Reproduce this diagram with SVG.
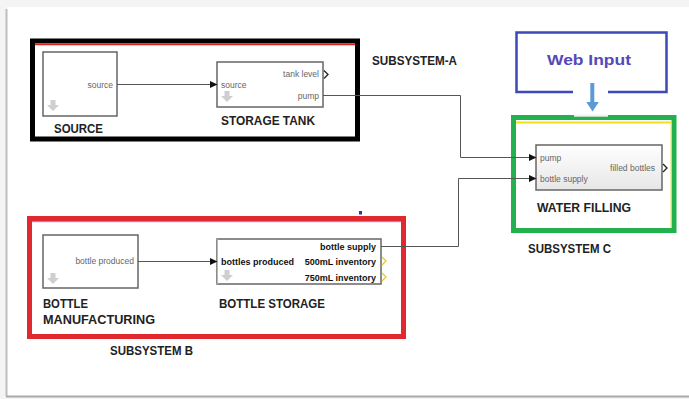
<svg xmlns="http://www.w3.org/2000/svg" width="689" height="399" viewBox="0 0 689 399">
<defs>
<marker id="ah" markerWidth="8" markerHeight="8" refX="7" refY="4" orient="auto" markerUnits="userSpaceOnUse">
<path d="M0,0.5 L7.5,4 L0,7.5 Z" fill="#111"/>
</marker>
<linearGradient id="wf" x1="0" y1="0" x2="0" y2="1">
<stop offset="0" stop-color="#ffffff"/>
<stop offset="1" stop-color="#e6e6e6"/>
</linearGradient>
<g id="dn">
<path d="M-2.5,-6 h5 v5 h3.5 l-6,6 l-6,-6 h3.5 z" fill="#cfcfcf"/>
</g>
</defs>
<style>
.lbl{font-family:"Liberation Sans",Arial,sans-serif;font-weight:bold;font-size:12px;fill:#222}
.port{font-family:"Liberation Sans",Arial,sans-serif;font-size:8.5px;fill:#666}
.bport{font-family:"Liberation Sans",Arial,sans-serif;font-weight:bold;font-size:9px;fill:#111}
.blk{fill:#fff;stroke:#666;stroke-width:1.5}
.wire{fill:none;stroke:#555;stroke-width:1}
.out{fill:none;stroke:#222;stroke-width:1.3}
.yout{fill:none;stroke:#e8c832;stroke-width:1.3}
</style>
<rect x="0" y="0" width="689" height="399" fill="#f4f4f4"/>
<rect x="7" y="7" width="682" height="389" fill="#fff"/>
<line x1="6.5" y1="9" x2="6.5" y2="396" stroke="#bdbdbd" stroke-width="2"/>
<line x1="6" y1="396.5" x2="689" y2="396.5" stroke="#a9a9a9" stroke-width="2"/>

<g id="subsystem-a">
<rect x="32.5" y="41" width="325" height="98" fill="none" stroke="#000" stroke-width="5"/>
<line x1="35" y1="44.5" x2="355" y2="44.5" stroke="#e02020" stroke-width="1.5"/>
<text class="lbl" x="372" y="65" textLength="85" lengthAdjust="spacingAndGlyphs">SUBSYSTEM-A</text>
</g>

<g id="source">
<rect class="blk" x="43" y="52" width="74" height="64"/>
<text class="port" x="113" y="87.5" text-anchor="end">source</text>
<use href="#dn" x="53" y="106"/>
<text class="lbl" x="54" y="133" textLength="49" lengthAdjust="spacingAndGlyphs">SOURCE</text>
</g>

<g id="storage-tank">
<rect class="blk" x="217" y="62" width="106" height="45"/>
<text class="port" x="221" y="88">source</text>
<text class="port" x="319" y="77" text-anchor="end">tank level</text>
<text class="port" x="319" y="98.5" text-anchor="end">pump</text>
<use href="#dn" x="227" y="97"/>
<path class="out" d="M324,70.5 L328,74.5 L324,78.5"/>
<text class="lbl" x="221" y="125" textLength="94" lengthAdjust="spacingAndGlyphs">STORAGE TANK</text>
</g>

<g id="web-input">
<path d="M573,92 H516.5 V32.5 H666.5 V92 H608" fill="none" stroke="#3b4ab8" stroke-width="2.5"/>
<text x="589" y="65" text-anchor="middle" font-family="'Liberation Sans',Arial,sans-serif" font-weight="bold" font-size="15.5" fill="#5548b8" textLength="84" lengthAdjust="spacingAndGlyphs">Web Input</text>
<path d="M590.3,83 h4 v19 h4.5 l-6.25,9.5 l-6.25,-9.5 h4 z" fill="#5b9bd5"/>
</g>

<g id="subsystem-c">
<rect x="513.5" y="117.5" width="160.5" height="113" fill="none" stroke="#22b14c" stroke-width="5"/>
<line x1="516" y1="122.5" x2="671" y2="122.5" stroke="#f0e020" stroke-width="2"/>
<line x1="671" y1="122" x2="671" y2="228" stroke="#e8e860" stroke-width="1"/>
<rect x="574" y="114.5" width="34" height="2.2" fill="#f2f2f2"/>
<text class="lbl" x="528" y="252.5" textLength="83" lengthAdjust="spacingAndGlyphs">SUBSYSTEM C</text>
</g>

<g id="water-filling">
<rect x="536" y="145" width="126" height="45" fill="url(#wf)" stroke="#666" stroke-width="1.5"/>
<text class="port" x="540" y="160.5">pump</text>
<text class="port" x="540" y="181.5">bottle supply</text>
<text class="port" x="655" y="171" text-anchor="end">filled bottles</text>
<path class="out" d="M663,164 L667,168 L663,172"/>
<text class="lbl" x="537" y="212" textLength="94" lengthAdjust="spacingAndGlyphs">WATER FILLING</text>
</g>

<g id="subsystem-b">
<rect x="29.5" y="218.5" width="374" height="118" fill="none" stroke="#e0282e" stroke-width="5"/>
<line x1="32" y1="221.7" x2="401" y2="221.7" stroke="#6a7ae0" stroke-width="1"/>
<rect x="359" y="211" width="3" height="3.5" fill="#2838b0"/>
<text class="lbl" x="110" y="355" textLength="83" lengthAdjust="spacingAndGlyphs">SUBSYSTEM B</text>
</g>

<g id="bottle-manufacturing">
<rect class="blk" x="43" y="235" width="95" height="53"/>
<text class="port" x="134" y="264" text-anchor="end">bottle produced</text>
<use href="#dn" x="53" y="279"/>
<text class="lbl" x="43" y="308" textLength="45" lengthAdjust="spacingAndGlyphs">BOTTLE</text>
<text class="lbl" x="43" y="324" textLength="112" lengthAdjust="spacingAndGlyphs">MANUFACTURING</text>
</g>

<g id="bottle-storage">
<rect class="blk" x="217" y="239" width="164" height="45"/>
<line x1="217.5" y1="239" x2="217.5" y2="284" stroke="#d8c030" stroke-width="1"/>
<text class="bport" x="376" y="249.5" text-anchor="end">bottle supply</text>
<text class="bport" x="221" y="264.5">bottles produced</text>
<text class="bport" x="376" y="264.5" text-anchor="end">500mL inventory</text>
<text class="bport" x="376" y="280.5" text-anchor="end">750mL inventory</text>
<use href="#dn" x="227" y="276"/>
<path class="yout" d="M382,257 L386,261 L382,265"/>
<path class="yout" d="M382,273 L386,277 L382,281"/>
<text class="lbl" x="219" y="308" textLength="106" lengthAdjust="spacingAndGlyphs">BOTTLE STORAGE</text>
</g>

<g id="connectors">
<path class="wire" d="M117,84.5 H217" marker-end="url(#ah)"/>
<path class="wire" d="M323,95.5 H460.5 V157.5 H536" marker-end="url(#ah)"/>
<path class="wire" d="M138,261.5 H217" marker-end="url(#ah)"/>
<path class="wire" d="M381,246.5 H458.5 V178.5 H536" marker-end="url(#ah)"/>
</g>
</svg>
